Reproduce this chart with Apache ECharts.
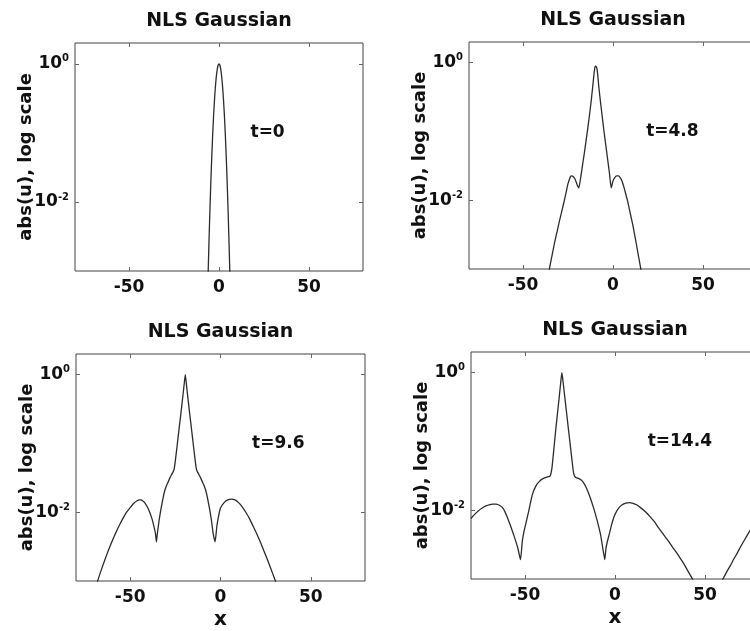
<!DOCTYPE html>
<html>
<head>
<meta charset="utf-8">
<script src="https://cdn.jsdelivr.net/npm/echarts@6/dist/echarts.min.js"></script>
<style>
  html, body { margin: 0; padding: 0; background: #fff; }
  #chart { width: 750px; height: 631px; }
</style>
</head>
<body>
<div id="chart"></div>
<script>
// Panel titles and time stamps
const panelTitles = ['NLS Gaussian', 'NLS Gaussian', 'NLS Gaussian', 'NLS Gaussian'];
const timeLabels = ['t=0', 't=4.8', 't=9.6', 't=14.4'];
const timeLabelAt = [[27, 0.1], [33, 0.1], [32, 0.1], [36, 0.1]];

// Axis ticks
const xTickValues = [-50, 0, 50];
const yTickValues = [0.01, 1];

// t = 0
const xT0 = [-7, -6.5, -6, -5.5, -5, -4.5, -4, -3.5, -3, -2.5, -2, -1.5, -1, -0.5, 0,
             0.5, 1, 1.5, 2, 2.5, 3, 3.5, 4, 4.5, 5, 5.5, 6, 6.5, 7];
const uT0 = [0.000083, 0.0003, 0.001, 0.00301, 0.00825, 0.0205, 0.0464, 0.0953, 0.178, 0.301, 0.464, 0.649, 0.825, 0.953, 1.0,
             0.953, 0.825, 0.649, 0.464, 0.301, 0.178, 0.0953, 0.0464, 0.0205, 0.00825, 0.00301, 0.001, 0.0003, 0.000083];

// t = 4.8
const xT1 = [-36, -35, -34, -33, -32, -31, -30, -29, -28, -27, -26, -25, -24, -23.5, -23, -22, -21, -20, -19,
             -18, -17, -16, -15, -14, -13, -12, -11, -10.5, -10, -9.5, -9, -8.5, -8, -7, -6, -5, -4, -3, -2, -1,
             0, 1, 2, 3, 4, 5, 6, 7, 8, 9, 10, 11, 12, 13, 14, 15, 16];
const uT1 = [0.00079, 0.00112, 0.00151, 0.00204, 0.00275, 0.00355, 0.00468, 0.00603, 0.00776, 0.01, 0.0132, 0.0174, 0.0209, 0.0224, 0.0226, 0.0219, 0.02, 0.017, 0.0151,
             0.0209, 0.0316, 0.0468, 0.0724, 0.112, 0.178, 0.295, 0.525, 0.708, 0.871, 0.891, 0.832, 0.676, 0.479, 0.275, 0.166, 0.1, 0.0631, 0.0398, 0.0251, 0.0151,
             0.0191, 0.0214, 0.0226, 0.0226, 0.0214, 0.0191, 0.0158, 0.0126, 0.01, 0.00759, 0.00575, 0.00437, 0.00316, 0.00229, 0.00162, 0.00117, 0.00083];

// t = 9.6
const xT2 = [-70, -68, -66, -64, -62, -60, -58, -56, -54, -52, -50, -48, -46, -45, -44, -42, -40, -38, -37, -36, -35.5,
             -35, -34, -33, -32, -31, -30, -29, -28, -27, -26, -25.5, -25, -24, -23, -22, -21, -20, -19.5,
             -19, -18, -17, -16, -15, -14, -13.5, -13, -12, -11, -10, -9, -8, -7, -6, -5, -4, -3,
             -2.5, -2, -1, 0, 2, 4, 6, 8, 10, 12, 14, 16, 18, 20, 22, 24, 26, 28, 30, 32];
const uT2 = [0.00063, 0.001, 0.00145, 0.00204, 0.00282, 0.0038, 0.00501, 0.00646, 0.00813, 0.01, 0.0117, 0.0135, 0.0148, 0.0151, 0.0151, 0.0138, 0.0112, 0.00813, 0.00646, 0.0049, 0.00372,
             0.00479, 0.00759, 0.011, 0.0151, 0.02, 0.024, 0.0275, 0.0316, 0.0355, 0.0398, 0.0447, 0.0562, 0.0933, 0.158, 0.263, 0.447, 0.776, 1.0,
             0.776, 0.447, 0.263, 0.158, 0.0933, 0.0562, 0.0447, 0.0398, 0.0355, 0.0316, 0.0275, 0.024, 0.02, 0.0151, 0.011, 0.00759, 0.00479, 0.00372,
             0.00468, 0.00631, 0.00891, 0.0115, 0.0138, 0.0151, 0.0155, 0.0151, 0.0138, 0.012, 0.01, 0.00813, 0.00631, 0.0049, 0.00372, 0.00275, 0.00204, 0.00148, 0.00107, 0.00076];

// t = 14.4
const xT3 = [-80, -78, -76, -74, -72, -70, -68, -66, -64, -62, -60, -58, -56, -54, -52.5, -51.5, -50.5, -49.5, -48, -46,
             -44, -42, -40, -38, -36, -35, -34, -33, -32, -31, -30, -29.5, -29, -28, -27, -26, -25, -24, -23,
             -22, -20, -18, -16, -14, -12, -10, -8, -6.5, -5.7, -5, -4, -3, -2, -1, 0, 2, 4, 6, 8, 10, 12, 14,
             16, 18, 20, 22, 24, 26, 28, 30, 32, 34, 36, 38, 40, 42, 44, 47, 51, 55, 58, 60, 62, 64, 66, 68,
             70, 72, 74, 76, 78, 80];
const uT3 = [0.00759, 0.00871, 0.00977, 0.0107, 0.0115, 0.012, 0.0123, 0.0123, 0.0117, 0.0105, 0.00813, 0.00589, 0.00417, 0.00282, 0.00191, 0.00355, 0.00501, 0.00646, 0.00955, 0.0166,
             0.0224, 0.0263, 0.0288, 0.0302, 0.0316, 0.0417, 0.0759, 0.141, 0.251, 0.437, 0.794, 1.0, 0.794, 0.468, 0.275, 0.162, 0.0955, 0.0562, 0.0347,
             0.0302, 0.0288, 0.0263, 0.0214, 0.0158, 0.011, 0.00724, 0.00437, 0.00251, 0.00191, 0.00282, 0.00372, 0.00468, 0.00603, 0.00741, 0.00871, 0.0107, 0.012, 0.0127, 0.0129, 0.0126, 0.012, 0.011,
             0.01, 0.00891, 0.00776, 0.00676, 0.00562, 0.00479, 0.00407, 0.00347, 0.00288, 0.00245, 0.00204, 0.0017, 0.00138, 0.00112, 0.00089, 0.0005, 0.00025, 0.0004, 0.00076, 0.001, 0.00126, 0.00155, 0.00195, 0.0024,
             0.00302, 0.00372, 0.00457, 0.00562, 0.00692, 0.00851];

const curves = [[xT0, uT0], [xT1, uT1], [xT2, uT2], [xT3, uT3]];

// Layout of the four panels (the right column runs past the page edge)
const grids = [
  { left: 75,  top: 43,  width: 288, height: 228 },
  { left: 469, top: 42,  width: 288, height: 227 },
  { left: 76,  top: 354, width: 289, height: 227 },
  { left: 471, top: 352, width: 288, height: 227 }
];

const FONT = 'DejaVu Sans';
const frameColor = '#444';
const lineColor = '#2b2b2b';

function supLabel(v) {
  const e = Math.round(Math.log10(v));
  return '{b|10}{s|' + e + '}';
}

const option = {
  backgroundColor: '#fff',
  animation: false,
  title: grids.map((g, i) => ({
    text: panelTitles[i],
    left: g.left + g.width / 2,
    top: g.top - 31,
    textAlign: 'center',
    padding: 0,
    textStyle: { fontFamily: FONT, fontSize: 19, fontWeight: 'bold', color: '#111' }
  })),
  grid: grids.map(g => Object.assign({
    show: true, borderColor: frameColor, borderWidth: 1, backgroundColor: '#fff',
    containLabel: false, outerBoundsMode: 'none'
  }, g)),
  xAxis: [],
  yAxis: [],
  series: []
};

grids.forEach((g, i) => {
  const bottomRow = i >= 2;
  // bottom x axis with labels
  option.xAxis.push({
    type: 'value', gridIndex: i, min: -80, max: 80, position: 'bottom',
    name: bottomRow ? 'x' : '',
    nameLocation: 'middle', nameGap: 29, nameMoveOverlap: false,
    nameTextStyle: { fontFamily: FONT, fontSize: 20, fontWeight: 'bold', color: '#111' },
    axisLine: { show: false, onZero: false },
    splitLine: { show: false },
    axisTick: { show: true, inside: true, length: 4, customValues: xTickValues, lineStyle: { color: '#666' } },
    axisLabel: { show: true, customValues: xTickValues, margin: 8,
      fontFamily: FONT, fontSize: 17, fontWeight: 'bold', color: '#111' }
  });
  // top x axis, ticks only
  option.xAxis.push({
    type: 'value', gridIndex: i, min: -80, max: 80, position: 'top',
    axisLine: { show: false, onZero: false }, splitLine: { show: false },
    axisTick: { show: true, inside: true, length: 4, customValues: xTickValues, lineStyle: { color: '#666' } },
    axisLabel: { show: false }
  });
  // left log axis with labels
  option.yAxis.push({
    type: 'log', logBase: 10, gridIndex: i, min: 0.001, max: 2, position: 'left',
    name: 'abs(u), log scale', nameLocation: 'middle', nameRotate: 90, nameGap: 40, nameMoveOverlap: false,
    nameTextStyle: { fontFamily: FONT, fontSize: 18, fontWeight: 'bold', color: '#111' },
    axisLine: { show: false, onZero: false }, splitLine: { show: false }, minorTick: { show: false },
    axisTick: { show: true, inside: true, length: 4, customValues: yTickValues, lineStyle: { color: '#666' } },
    axisLabel: {
      show: true, customValues: yTickValues, margin: 6,
      formatter: supLabel,
      rich: {
        b: { fontFamily: FONT, fontSize: 17, fontWeight: 'bold', color: '#111', lineHeight: 20 },
        s: { fontFamily: FONT, fontSize: 10, fontWeight: 'bold', color: '#111', lineHeight: 10, verticalAlign: 'top' }
      }
    }
  });
  // right log axis, ticks only
  option.yAxis.push({
    type: 'log', logBase: 10, gridIndex: i, min: 0.001, max: 2, position: 'right',
    axisLine: { show: false, onZero: false }, splitLine: { show: false }, minorTick: { show: false },
    axisTick: { show: true, inside: true, length: 4, customValues: yTickValues, lineStyle: { color: '#666' } },
    axisLabel: { show: false }
  });

  const xs = curves[i][0], us = curves[i][1];
  option.series.push({
    type: 'line',
    xAxisIndex: i * 2,
    yAxisIndex: i * 2,
    data: xs.map((x, k) => [x, us[k]]),
    showSymbol: false,
    symbol: 'none',
    clip: true,
    smooth: 0.15,
    lineStyle: { color: lineColor, width: 1.3 },
    markPoint: {
      symbol: 'circle', symbolSize: 1,
      itemStyle: { color: 'rgba(0,0,0,0)' },
      label: { show: true, position: 'inside', formatter: timeLabels[i],
        fontFamily: FONT, fontSize: 17, fontWeight: 'bold', color: '#111' },
      data: [{ coord: timeLabelAt[i] }]
    }
  });
});

const chart = echarts.init(document.getElementById('chart'), null, { renderer: 'canvas' });
chart.setOption(option);
</script>
</body>
</html>
